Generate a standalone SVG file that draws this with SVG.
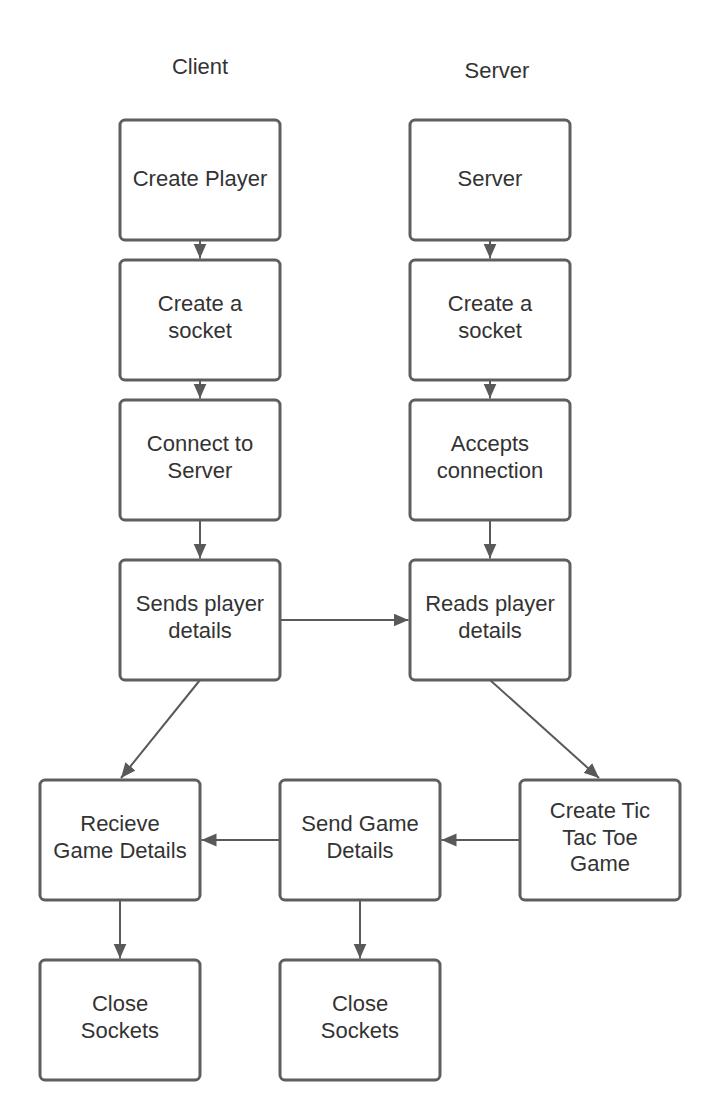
<svg xmlns="http://www.w3.org/2000/svg" width="720" height="1120" viewBox="0 0 720 1120">
<style>
.box{fill:#ffffff;stroke:#5e5e5e;stroke-width:3}
.t{font-family:"Liberation Sans",Arial,sans-serif;font-size:22px;fill:#333333;text-anchor:middle}
.c{fill:none;stroke:#595959;stroke-width:2}
</style>
<defs>
<marker id="ah" markerUnits="userSpaceOnUse" markerWidth="16" markerHeight="14" refX="15" refY="6.5" orient="auto">
<path d="M0,0 L15,6.5 L0,13 Z" fill="#595959"/>
</marker>
</defs>
<rect width="720" height="1120" fill="#ffffff"/>
<text class="t" x="200" y="74">Client</text>
<text class="t" x="497" y="78">Server</text>
<g id="connectors">
<path class="c" d="M200,240 V258.5" marker-end="url(#ah)"/>
<path class="c" d="M200,380 V398.5" marker-end="url(#ah)"/>
<path class="c" d="M200,520 V558.5" marker-end="url(#ah)"/>
<path class="c" d="M490,240 V258.5" marker-end="url(#ah)"/>
<path class="c" d="M490,380 V398.5" marker-end="url(#ah)"/>
<path class="c" d="M490,520 V558.5" marker-end="url(#ah)"/>
<path class="c" d="M280,620 H408.5" marker-end="url(#ah)"/>
<path class="c" d="M200,680 L121,778" marker-end="url(#ah)"/>
<path class="c" d="M490,680 L599,778" marker-end="url(#ah)"/>
<path class="c" d="M520,840 H441.5" marker-end="url(#ah)"/>
<path class="c" d="M280,840 H201.5" marker-end="url(#ah)"/>
<path class="c" d="M120,900 V958.5" marker-end="url(#ah)"/>
<path class="c" d="M360,900 V958.5" marker-end="url(#ah)"/>
</g>
<g id="create-player"><rect class="box" x="120" y="120" width="160" height="120" rx="5"/><text class="t" x="200" y="186">Create Player</text></g>
<g id="client-socket"><rect class="box" x="120" y="260" width="160" height="120" rx="5"/><text class="t" x="200" y="311">Create a</text><text class="t" x="200" y="337.5">socket</text></g>
<g id="connect-server"><rect class="box" x="120" y="400" width="160" height="120" rx="5"/><text class="t" x="200" y="451">Connect to</text><text class="t" x="200" y="477.5">Server</text></g>
<g id="sends-details"><rect class="box" x="120" y="560" width="160" height="120" rx="5"/><text class="t" x="200" y="611">Sends player</text><text class="t" x="200" y="637.5">details</text></g>
<g id="server"><rect class="box" x="410" y="120" width="160" height="120" rx="5"/><text class="t" x="490" y="186">Server</text></g>
<g id="server-socket"><rect class="box" x="410" y="260" width="160" height="120" rx="5"/><text class="t" x="490" y="311">Create a</text><text class="t" x="490" y="337.5">socket</text></g>
<g id="accepts"><rect class="box" x="410" y="400" width="160" height="120" rx="5"/><text class="t" x="490" y="451">Accepts</text><text class="t" x="490" y="477.5">connection</text></g>
<g id="reads-details"><rect class="box" x="410" y="560" width="160" height="120" rx="5"/><text class="t" x="490" y="611">Reads player</text><text class="t" x="490" y="637.5">details</text></g>
<g id="recieve"><rect class="box" x="40" y="780" width="160" height="120" rx="5"/><text class="t" x="120" y="831">Recieve</text><text class="t" x="120" y="857.5">Game Details</text></g>
<g id="send-game"><rect class="box" x="280" y="780" width="160" height="120" rx="5"/><text class="t" x="360" y="831">Send Game</text><text class="t" x="360" y="857.5">Details</text></g>
<g id="create-game"><rect class="box" x="520" y="780" width="160" height="120" rx="5"/><text class="t" x="600" y="818">Create Tic</text><text class="t" x="600" y="844.5">Tac Toe</text><text class="t" x="600" y="871">Game</text></g>
<g id="close-client"><rect class="box" x="40" y="960" width="160" height="120" rx="5"/><text class="t" x="120" y="1011">Close</text><text class="t" x="120" y="1037.5">Sockets</text></g>
<g id="close-server"><rect class="box" x="280" y="960" width="160" height="120" rx="5"/><text class="t" x="360" y="1011">Close</text><text class="t" x="360" y="1037.5">Sockets</text></g>
</svg>
